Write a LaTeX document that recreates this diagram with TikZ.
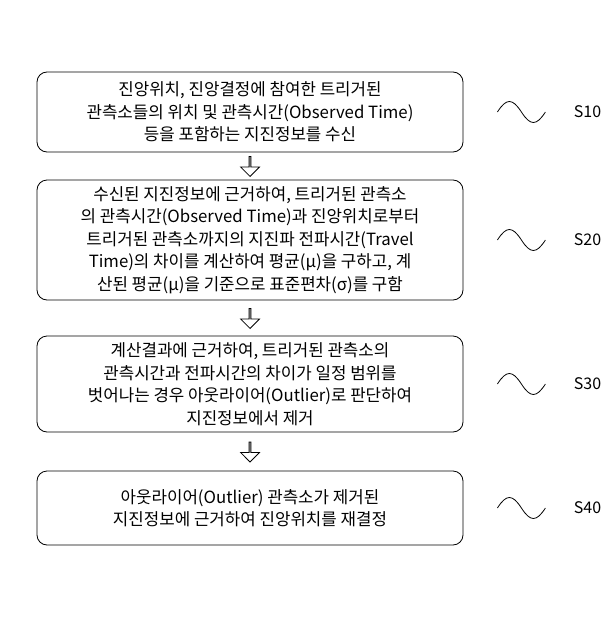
\documentclass[tikz,border=0pt]{standalone}
\usepackage{fontspec}
\setmainfont{Noto Sans CJK KR}
\usetikzlibrary{shapes.arrows,calc}
\begin{document}
\begin{tikzpicture}[x=1pt,y=-1pt,
    stepbox/.style={draw, thick, rounded corners=10pt, align=center, font=\fontsize{16.8}{22.5}\selectfont, inner sep=0pt},
    hollow/.style={single arrow, draw, thick, shape border rotate=270, minimum height=20pt, minimum width=19pt, single arrow head extend=4pt, inner sep=0pt},
    squiggle/.style={thick},
    steplabel/.style={font=\fontsize{16}{18}\selectfont}
]
\useasboundingbox (0,0) rectangle (600,621);

% steps
\node[stepbox, minimum width=426pt, minimum height=80pt] (s10) at (250,112) {진앙위치, 진앙결정에 참여한 트리거된\\관측소들의 위치 및 관측시간(Observed Time)\\등을 포함하는 지진정보를 수신};
\node[stepbox, minimum width=426pt, minimum height=120pt] (s20) at (250,240) {수신된 지진정보에 근거하여, 트리거된 관측소\\의 관측시간(Observed Time)과 진앙위치로부터\\트리거된 관측소까지의 지진파 전파시간(Travel\\Time)의 차이를 계산하여 평균(μ)을 구하고, 계\\산된 평균(μ)을 기준으로 표준편차(σ)를 구함};
\node[stepbox, minimum width=426pt, minimum height=96pt] (s30) at (250,384) {계산결과에 근거하여, 트리거된 관측소의\\관측시간과 전파시간의 차이가 일정 범위를\\벗어나는 경우 아웃라이어(Outlier)로 판단하여\\지진정보에서 제거};
\node[stepbox, minimum width=426pt, minimum height=74pt] (s40) at (250,508) {아웃라이어(Outlier) 관측소가 제거된\\지진정보에 근거하여 진앙위치를 재결정};

% arrows between steps
\node[hollow] (a1) at ($(s10.south)!0.5!(s20.north)$) {};
\node[hollow] (a2) at ($(s20.south)!0.5!(s30.north)$) {};
\node[hollow] (a3) at ($(s30.south)!0.5!(s40.north)$) {};

% labels
\foreach \s in {10,20,30,40}{
  \coordinate (w\s) at ([xshift=34pt]s\s.east);
  \node[steplabel, anchor=west] (l\s) at ([xshift=107pt]s\s.east) {S\s};
  \draw[squiggle] (w\s) .. controls +(9,-14) and +(-9,-14) .. ++(24,0)
                        .. controls +(9,14) and +(-9,14) .. ++(24,0);
}
\end{tikzpicture}
\end{document}
